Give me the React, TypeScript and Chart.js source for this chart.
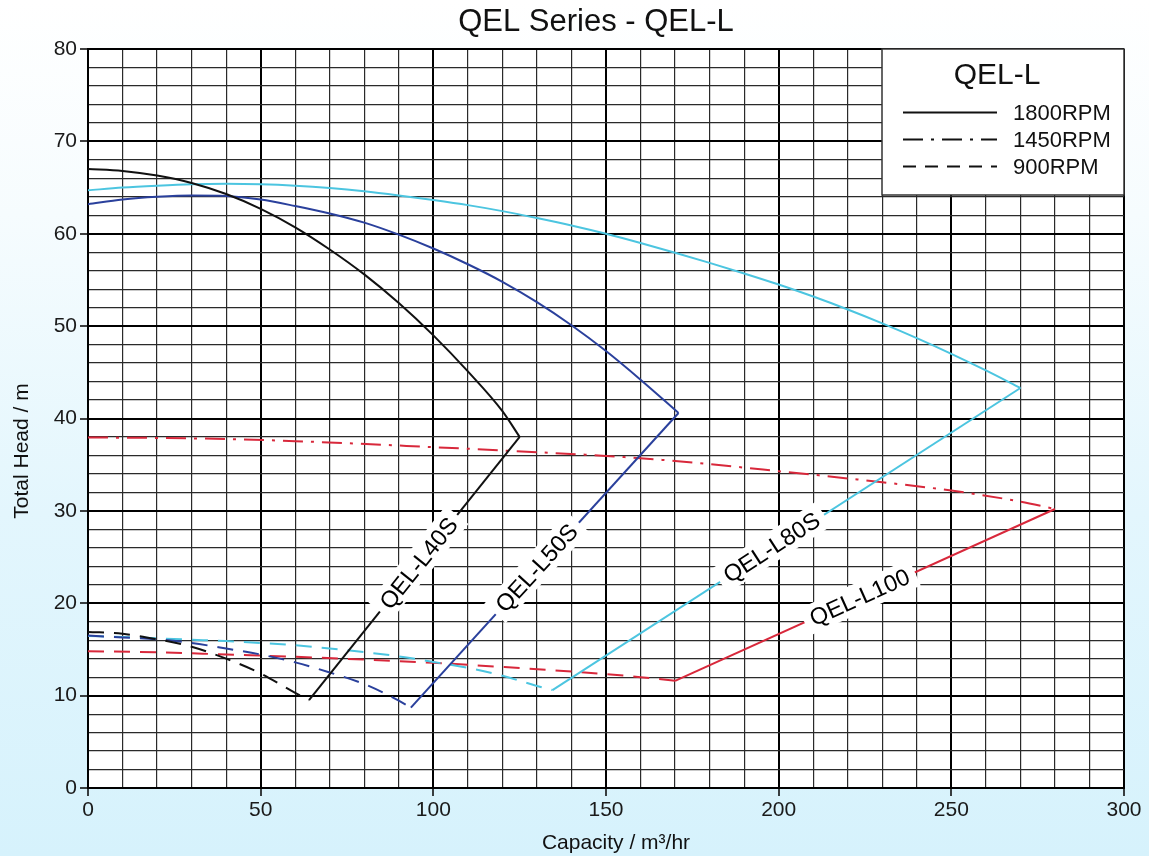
import React, { useEffect, useRef } from 'react';
import { Chart, registerables } from 'chart.js';

Chart.register(...registerables);

// ---------- data (capacity m3/hr, head m) ----------
const L40S_1800_Q = [0, 10, 20, 30, 40, 50, 60, 70, 80, 90, 100, 110, 120, 125];
const L40S_1800_H = [67.0, 66.8, 66.3, 65.5, 64.3, 62.7, 60.7, 58.3, 55.6, 52.5, 49.0, 45.1, 40.8, 38.0];
const L40S_LINK_Q = [64, 125];
const L40S_LINK_H = [9.5, 38.0];
const L40S_900_Q = [0, 10, 20, 30, 40, 50, 60, 64];
const L40S_900_H = [16.9, 16.7, 16.1, 15.3, 14.0, 12.4, 10.3, 9.5];

const L50S_1800_Q = [0, 10, 20, 30, 40, 50, 60, 70, 80, 90, 100, 110, 120, 130, 140, 150, 160, 171];
const L50S_1800_H = [63.2, 63.7, 64.0, 64.15, 64.1, 63.7, 63.0, 62.2, 61.2, 59.9, 58.4, 56.7, 54.8, 52.6, 50.1, 47.3, 44.2, 40.6];
const L50S_LINK_Q = [93.5, 171];
const L50S_LINK_H = [8.7, 40.6];
const L50S_900_Q = [0, 10, 20, 30, 40, 50, 60, 70, 80, 90, 93.5];
const L50S_900_H = [16.5, 16.3, 16.1, 15.7, 15.1, 14.45, 13.6, 12.5, 11.25, 9.45, 8.7];

const L80S_1800_Q = [0, 10, 20, 30, 40, 50, 60, 70, 80, 90, 100, 110, 120, 130, 140, 150, 160, 170, 180, 190, 200, 210, 220, 230, 240, 250, 260, 270];
const L80S_1800_H = [64.7, 65.0, 65.2, 65.35, 65.4, 65.35, 65.2, 64.95, 64.6, 64.15, 63.65, 63.1, 62.45, 61.7, 60.9, 60.0, 59.0, 57.95, 56.85, 55.7, 54.5, 53.2, 51.8, 50.3, 48.7, 47.0, 45.2, 43.3];
const L80S_LINK_Q = [134.5, 270];
const L80S_LINK_H = [10.6, 43.3];
const L80S_900_Q = [0, 10, 20, 30, 40, 50, 60, 70, 80, 90, 100, 110, 120, 130, 134.5];
const L80S_900_H = [16.45, 16.35, 16.2, 16.05, 15.9, 15.7, 15.45, 15.1, 14.7, 14.25, 13.65, 13.0, 12.15, 11.05, 10.6];

const L100_1450_Q = [0, 30, 60, 100, 130, 150, 170, 200, 230, 250, 270, 280];
const L100_1450_H = [37.95, 37.85, 37.55, 36.9, 36.35, 35.95, 35.4, 34.3, 33.1, 32.2, 31.0, 30.2];
const L100_LINK_Q = [170, 280];
const L100_LINK_H = [11.6, 30.2];
const L100_900_Q = [0, 20, 40, 60, 80, 100, 120, 140, 160, 170];
const L100_900_H = [14.8, 14.7, 14.45, 14.2, 13.9, 13.55, 13.1, 12.6, 12.0, 11.6];

const MODEL_NAMES = ['QEL-L40S', 'QEL-L50S', 'QEL-L80S', 'QEL-L100'];
const LABEL_Q = [95.8, 130.0, 198.0, 223.5];
const LABEL_H = [24.3, 23.8, 26.0, 20.6];

const LEGEND_TITLE = 'QEL-L';
const LEGEND_LABELS = ['1800RPM', '1450RPM', '900RPM'];
const CHART_TITLE = 'QEL Series - QEL-L';
const X_TITLE = 'Capacity / m\u00B3/hr';
const Y_TITLE = 'Total Head / m';

const X_MIN = 0, X_MAX = 300, X_STEP = 10, X_LABEL_EVERY = 50;
const Y_MIN = 0, Y_MAX = 80, Y_STEP = 2, Y_LABEL_EVERY = 10;

// ---------- styles ----------
const C_BLACK = '#111111';
const C_NAVY = '#2a409c';
const C_SKY = '#4cc5e0';
const C_RED = '#d8283b';
const DASH = [16, 10];
const DASHDOT = [20, 8, 3, 8];
const FONT = '"Liberation Sans", Arial, Helvetica, sans-serif';

const pts = (q: number[], h: number[]) => q.map((x, i) => ({ x, y: h[i] }));

function line(data: { x: number; y: number }[], color: string, dash: number[] = [], smooth = true) {
  return {
    data,
    borderColor: color,
    backgroundColor: color,
    borderWidth: 2,
    borderDash: dash,
    showLine: true,
    pointRadius: 0,
    fill: false,
    cubicInterpolationMode: smooth ? 'monotone' : 'default',
    tension: smooth ? 0.4 : 0,
  };
}

const LINKS = [
  { q: L40S_LINK_Q, h: L40S_LINK_H },
  { q: L50S_LINK_Q, h: L50S_LINK_H },
  { q: L80S_LINK_Q, h: L80S_LINK_H },
  { q: L100_LINK_Q, h: L100_LINK_H },
];

const overlay = {
  id: 'overlay',
  beforeDraw(chart: any) {
    const { ctx, chartArea: a } = chart;
    ctx.save();
    ctx.fillStyle = '#ffffff';
    ctx.fillRect(a.left, a.top, a.right - a.left, a.bottom - a.top);
    ctx.restore();
  },
  afterDraw(chart: any) {
    const { ctx, chartArea: a } = chart;
    const xs = chart.scales.x;
    const ys = chart.scales.y;

    // model labels along connecting lines
    MODEL_NAMES.forEach((name, i) => {
      const lk = LINKS[i];
      const x1 = xs.getPixelForValue(lk.q[0]);
      const y1 = ys.getPixelForValue(lk.h[0]);
      const x2 = xs.getPixelForValue(lk.q[1]);
      const y2 = ys.getPixelForValue(lk.h[1]);
      const ang = Math.atan2(y2 - y1, x2 - x1);
      const cx = xs.getPixelForValue(LABEL_Q[i]);
      const cy = ys.getPixelForValue(LABEL_H[i]);
      ctx.save();
      ctx.translate(cx, cy);
      ctx.rotate(ang);
      ctx.font = `23.5px ${FONT}`;
      const w = ctx.measureText(name).width;
      ctx.fillStyle = '#ffffff';
      ctx.fillRect(-w / 2 - 7, -15, w + 14, 29);
      ctx.fillStyle = '#000000';
      ctx.textAlign = 'center';
      ctx.textBaseline = 'middle';
      ctx.fillText(name, 0, 1);
      ctx.restore();
    });

    // legend box
    const lx = 882, ly = a.top, lw = a.right - 882, lh = 146;
    ctx.save();
    ctx.fillStyle = '#ffffff';
    ctx.fillRect(lx, ly, lw, lh);
    ctx.strokeStyle = '#333333';
    ctx.lineWidth = 1.5;
    ctx.strokeRect(lx, ly, lw, lh);
    ctx.fillStyle = '#111111';
    ctx.font = `30px ${FONT}`;
    ctx.textAlign = 'center';
    ctx.textBaseline = 'alphabetic';
    ctx.fillText(LEGEND_TITLE, 997, 84);
    const rowsY = [112.5, 139.5, 166.5];
    const dashes = [[], DASHDOT.map((d) => d), [13, 9]];
    LEGEND_LABELS.forEach((lab, i) => {
      ctx.beginPath();
      ctx.setLineDash(dashes[i]);
      ctx.strokeStyle = '#111111';
      ctx.lineWidth = 2;
      ctx.moveTo(903, rowsY[i]);
      ctx.lineTo(997, rowsY[i]);
      ctx.stroke();
      ctx.setLineDash([]);
      ctx.font = `22px ${FONT}`;
      ctx.textAlign = 'left';
      ctx.textBaseline = 'middle';
      ctx.fillText(lab, 1013, rowsY[i] + 1);
    });
    ctx.restore();

    // chart title
    ctx.save();
    ctx.fillStyle = '#111111';
    ctx.font = `31px ${FONT}`;
    ctx.textAlign = 'center';
    ctx.textBaseline = 'alphabetic';
    ctx.fillText(CHART_TITLE, 596, 31);

    // axis titles
    ctx.font = `21px ${FONT}`;
    ctx.textBaseline = 'middle';
    ctx.fillText(X_TITLE, 616, 843);
    ctx.translate(22, 451);
    ctx.rotate(-Math.PI / 2);
    ctx.fillText(Y_TITLE, 0, 0);
    ctx.restore();
  },
};

export default function App() {
  const ref = useRef<HTMLCanvasElement | null>(null);

  useEffect(() => {
    if (!ref.current) return;
    const datasets: any[] = [
      line(pts(L40S_1800_Q, L40S_1800_H), C_BLACK),
      line(pts(L40S_LINK_Q, L40S_LINK_H), C_BLACK, [], false),
      line(pts(L40S_900_Q, L40S_900_H), C_BLACK, DASH),
      line(pts(L50S_1800_Q, L50S_1800_H), C_NAVY),
      line(pts(L50S_LINK_Q, L50S_LINK_H), C_NAVY, [], false),
      line(pts(L50S_900_Q, L50S_900_H), C_NAVY, DASH),
      line(pts(L80S_1800_Q, L80S_1800_H), C_SKY),
      line(pts(L80S_LINK_Q, L80S_LINK_H), C_SKY, [], false),
      line(pts(L80S_900_Q, L80S_900_H), C_SKY, DASH),
      line(pts(L100_1450_Q, L100_1450_H), C_RED, DASHDOT),
      line(pts(L100_LINK_Q, L100_LINK_H), C_RED, [], false),
      line(pts(L100_900_Q, L100_900_H), C_RED, DASH),
    ];

    const chart = new Chart(ref.current, {
      type: 'scatter',
      data: { datasets },
      options: {
        animation: false,
        responsive: false,
        devicePixelRatio: 1,
        layout: { padding: { top: 49, right: 25, left: 0, bottom: 0 } },
        plugins: { legend: { display: false }, tooltip: { enabled: false }, title: { display: false } },
        scales: {
          x: {
            type: 'linear',
            min: X_MIN,
            max: X_MAX,
            afterFit: (s: any) => { s.height = 68; s.paddingLeft = 0; s.paddingRight = 0; },
            ticks: {
              stepSize: X_STEP,
              autoSkip: false,
              maxRotation: 0,
              padding: 2,
              color: '#1a1a1a',
              font: { family: FONT, size: 21 },
              callback: (v: any) => (Number(v) % X_LABEL_EVERY === 0 ? String(v) : ''),
            },
            grid: {
              color: (c: any) => (c.tick && c.tick.value % X_LABEL_EVERY === 0 ? '#000000' : '#2a2a2a'),
              lineWidth: (c: any) => (c.tick && c.tick.value % X_LABEL_EVERY === 0 ? 2 : 1.2),
              tickColor: (c: any) => (c.tick && c.tick.value % X_LABEL_EVERY === 0 ? '#000000' : 'rgba(0,0,0,0)'),
              tickLength: 8,
              tickWidth: 1.5,
              drawTicks: true,
            },
            border: { display: true, color: '#000000', width: 2 },
          },
          y: {
            type: 'linear',
            min: Y_MIN,
            max: Y_MAX,
            afterFit: (s: any) => { s.width = 88; s.paddingTop = 0; s.paddingBottom = 0; },
            ticks: {
              stepSize: Y_STEP,
              autoSkip: false,
              padding: 3,
              color: '#1a1a1a',
              font: { family: FONT, size: 21 },
              callback: (v: any) => (Number(v) % Y_LABEL_EVERY === 0 ? String(v) : ''),
            },
            grid: {
              color: (c: any) => (c.tick && c.tick.value % Y_LABEL_EVERY === 0 ? '#000000' : '#2a2a2a'),
              lineWidth: (c: any) => (c.tick && c.tick.value % Y_LABEL_EVERY === 0 ? 2 : 1.2),
              tickColor: (c: any) => (c.tick && c.tick.value % Y_LABEL_EVERY === 0 ? '#000000' : 'rgba(0,0,0,0)'),
              tickLength: 8,
              tickWidth: 1.5,
              drawTicks: true,
            },
            border: { display: true, color: '#000000', width: 2 },
          },
        },
      } as any,
      plugins: [overlay],
    });
    return () => chart.destroy();
  }, []);

  return (
    <div
      style={{
        position: 'fixed',
        left: 0,
        top: 0,
        width: 1149,
        height: 856,
        background: 'linear-gradient(to bottom, #ffffff 0%, #f6fcfe 25%, #e3f6fd 60%, #d6f2fc 100%)',
      }}
    >
      <canvas ref={ref} width={1149} height={856} style={{ display: 'block' }} />
    </div>
  );
}
